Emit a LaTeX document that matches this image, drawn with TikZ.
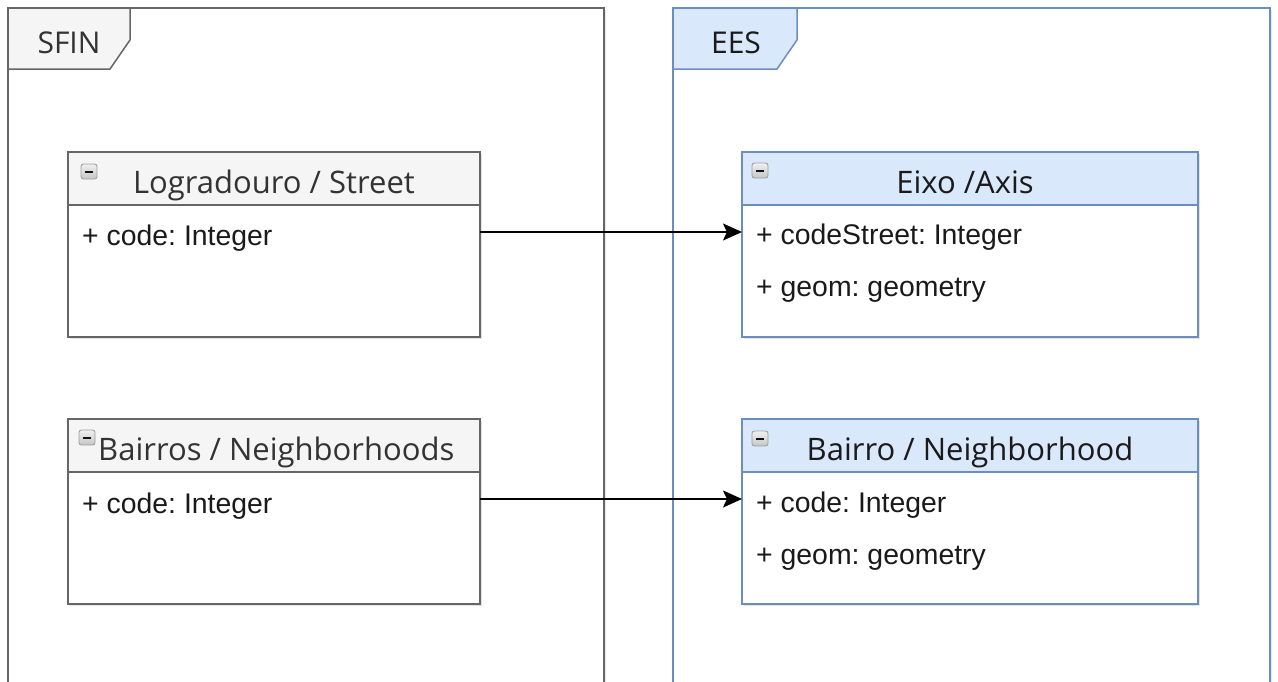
\documentclass[tikz,border=0pt]{standalone}
\usepackage{fontspec}
\setmainfont{Liberation Sans}
\newfontfamily\titlefont{Open Sans}
\usetikzlibrary{arrows.meta,shadows}
\definecolor{grayfill}{HTML}{F5F5F5}
\definecolor{graystroke}{HTML}{666666}
\definecolor{bluefill}{HTML}{DAE8FC}
\definecolor{bluestroke}{HTML}{6C8EBF}
\definecolor{titletext}{HTML}{333333}
\definecolor{bodytext}{HTML}{1A1A1A}
\tikzset{
  pkgbox/.style={line width=1.5pt, fill=white, drop shadow={opacity=0.18, shadow xshift=2pt, shadow yshift=-2pt}},
  classbox/.style={line width=1.5pt, fill=white, minimum width=412pt, minimum height=185pt, anchor=north west, inner sep=0pt, outer sep=0pt, drop shadow={opacity=0.22, shadow xshift=2pt, shadow yshift=-2pt}},
  graystyle/.style={draw=graystroke, fill=grayfill},
  bluestyle/.style={draw=bluestroke, fill=bluefill},
  pkglabel/.style={font=\titlefont\fontsize{30}{36}\selectfont, text=titletext, anchor=base, inner sep=0pt},
  classtitle/.style={font=\titlefont\fontsize{31}{37}\selectfont, text=titletext, anchor=base, inner sep=0pt},
  attr/.style={font=\frenchspacing\fontsize{28.4}{34}\selectfont, text=bodytext, anchor=base west, inner sep=0pt},
  minusicon/.style={rounded corners=2.5pt, draw=gray!75, top color=gray!12, bottom color=gray!45, line width=0.9pt},
  link/.style={line width=2pt, -{Stealth[length=19pt,width=17pt,inset=4pt]}}
}
\begin{document}
\begin{tikzpicture}[x=1pt,y=-1pt]
\useasboundingbox (0,0) rectangle (1278,681);
\clip (0,0) rectangle (1278,681);
\fill[white] (0,0) rectangle (1278,681);
% packages
\draw[pkgbox, draw=graystroke] (8,8) rectangle (604,700);
\draw[pkgbox, draw=bluestroke] (673,8) rectangle (1270,700);
\draw[line width=1.5pt, graystyle] (8,8) -- (130,8) -- (130,40) -- (110,69) -- (8,69) -- cycle;
\draw[line width=1.5pt, bluestyle] (673,8) -- (797,8) -- (797,40) -- (777,69) -- (673,69) -- cycle;
\node[pkglabel] (sfin) at (69,53) {SFIN};
\node[pkglabel, text=bodytext] (ees) at (736,53) {EES};
% classes
\node[classbox, draw=graystroke] (lograd) at (68,152) {};
\node[classbox, draw=graystroke] (bairros) at (68,419) {};
\node[classbox, draw=bluestroke, minimum width=456pt] (eixo) at (742,152) {};
\node[classbox, draw=bluestroke, minimum width=456pt] (bairro) at (742,419) {};
% headers
\draw[line width=1.5pt, graystyle] (lograd.north west) rectangle ([yshift=-53pt]lograd.north east);
\draw[line width=1.5pt, graystyle] (bairros.north west) rectangle ([yshift=-53pt]bairros.north east);
\draw[line width=1.5pt, bluestyle] (eixo.north west) rectangle ([yshift=-53pt]eixo.north east);
\draw[line width=1.5pt, bluestyle] (bairro.north west) rectangle ([yshift=-53pt]bairro.north east);
% icons
\foreach \x/\y in {81/164, 79/430, 752/163, 752/431}{
  \draw[minusicon] (\x,\y) rectangle (\x+16,\y+15);
  \draw[line width=2pt, gray!15!black] (\x+4,\y+7.5) -- (\x+12,\y+7.5);
}
% titles
\node[classtitle] (t1) at (274,193) {Logradouro / Street};
\node[classtitle, anchor=base west] (t2) at (98,460) {Bairros / Neighborhoods};
\node[classtitle, text=bodytext] (t3) at (965,193) {Eixo /Axis};
\node[classtitle, text=bodytext] (t4) at (970,460) {Bairro / Neighborhood};
% attributes
\node[attr] (a1) at (82,245) {+ code: Integer};
\node[attr] (a2) at (82,513) {+ code: Integer};
\node[attr] (a3) at (756,244) {+ codeStreet: Integer};
\node[attr] (a4) at (756,296) {+ geom: geometry};
\node[attr] (a5) at (756,512) {+ code: Integer};
\node[attr] (a6) at (756,564) {+ geom: geometry};
% connectors
\draw[link] (lograd.east |- 0,232) -- (eixo.west |- 0,232);
\draw[link] (bairros.east |- 0,499) -- (bairro.west |- 0,499);
\end{tikzpicture}
\end{document}
